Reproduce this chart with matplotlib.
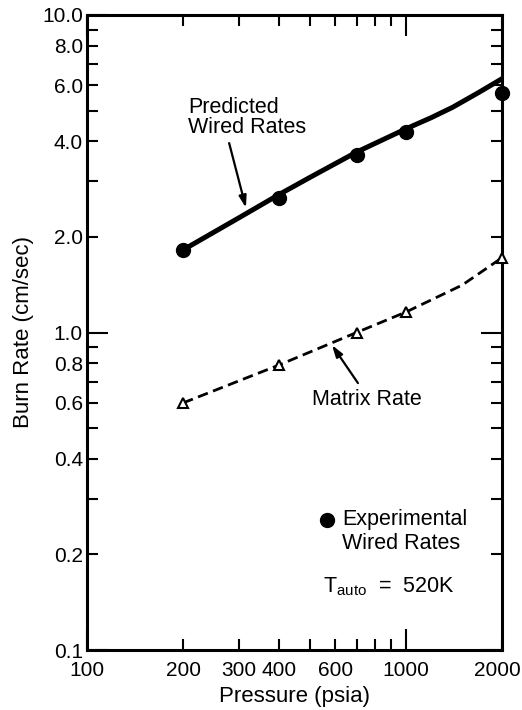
#!/usr/bin/env python3

import matplotlib
matplotlib.use("Agg")
import matplotlib.pyplot as plt
import matplotlib.transforms as mtransforms
from matplotlib.ticker import FixedLocator, FixedFormatter

# Valores
pressao_exp = [200, 400, 700, 1000, 2000]
taxa_exp = [1.82, 2.65, 3.62, 4.28, 5.68]

pressao_prev = [200, 300, 400, 500, 700, 1000, 1200, 1400, 1700, 2000]
taxa_prev = [1.82, 2.30, 2.72, 3.08, 3.70, 4.38, 4.75, 5.12, 5.72, 6.30]

# curva tracejada (lida em mais pontos) e triângulos
pressao_matriz = [200, 400, 700, 1000, 1500, 2000]
taxa_matriz = [0.60, 0.79, 1.00, 1.16, 1.41, 1.72]
pressao_matriz_pts = [200, 400, 700, 1000, 2000]
taxa_matriz_pts = [0.60, 0.79, 1.00, 1.16, 1.72]

x_major = [100, 1000]
x_major_labels = ["100", "1000"]
x_minor = [200, 300, 400, 500, 600, 700, 800, 900, 2000]
x_minor_labels = ["200", "300", "400", "", "600", "", "", "", "2000"]
y_major = [0.1, 1.0, 10.0]
y_major_labels = ["0.1", "1.0", "10.0"]
y_minor = [0.2, 0.3, 0.4, 0.5, 0.6, 0.7, 0.8, 0.9, 2, 3, 4, 5, 6, 7, 8, 9]
y_minor_labels = ["0.2", "", "0.4", "", "0.6", "", "0.8", "",
                  "2.0", "", "4.0", "", "6.0", "", "8.0", ""]

plt.rcParams["font.family"] = ["Liberation Sans", "DejaVu Sans"]
plt.rcParams["mathtext.fontset"] = "custom"
plt.rcParams["mathtext.rm"] = "Liberation Sans"
plt.rcParams["mathtext.it"] = "Liberation Sans"

fig = plt.figure(figsize=(5.22, 7.10), dpi=100)
ax = fig.add_axes([87 / 522, 1 - 650 / 710, 415 / 522, 635 / 710])

ax.set_xscale("log")
ax.set_yscale("log")
ax.set_xlim(100, 2000)
ax.set_ylim(0.1, 10)

# Curvas
ax.plot(pressao_prev, taxa_prev, color="black", linewidth=3.6,
        solid_capstyle="round", solid_joinstyle="round", zorder=3)
ax.plot(pressao_exp, taxa_exp, "o", color="black", markersize=10,
        clip_on=False, zorder=4)
ax.plot(pressao_matriz, taxa_matriz, color="black", linewidth=2.0,
        linestyle=(0, (3.8, 2.0)), zorder=3)
ax.plot(pressao_matriz_pts, taxa_matriz_pts, "^", color="black",
        markersize=7.5, markerfacecolor="white", markeredgewidth=1.5,
        clip_on=False, zorder=4)

# Eixos e ticks
ax.xaxis.set_major_locator(FixedLocator(x_major))
ax.xaxis.set_major_formatter(FixedFormatter(x_major_labels))
ax.xaxis.set_minor_locator(FixedLocator(x_minor))
ax.xaxis.set_minor_formatter(FixedFormatter(x_minor_labels))
ax.yaxis.set_major_locator(FixedLocator(y_major))
ax.yaxis.set_major_formatter(FixedFormatter(y_major_labels))
ax.yaxis.set_minor_locator(FixedLocator(y_minor))
ax.yaxis.set_minor_formatter(FixedFormatter(y_minor_labels))

ax.tick_params(which="both", direction="in", top=True, right=True,
               labelsize=15, width=1.5)
ax.tick_params(axis="x", which="both", pad=8)
ax.tick_params(axis="y", which="both", pad=3)
ax.tick_params(which="major", length=15)
ax.tick_params(which="minor", length=8)
for s in ax.spines.values():
    s.set_linewidth(2.2)

# "2000" fica encostado à borda: puxar um pouco para a esquerda
desloc = mtransforms.ScaledTranslation(-3 / 72, 0, fig.dpi_scale_trans)
for lab in ax.xaxis.get_minorticklabels():
    if lab.get_text() == "2000":
        lab.set_transform(lab.get_transform() + desloc)

ax.set_xlabel("Pressure (psia)", fontsize=16, labelpad=4)
ax.set_ylabel("Burn Rate (cm/sec)", fontsize=16, labelpad=6)

# Anotações
seta = dict(arrowstyle="-|>,head_length=0.7,head_width=0.22",
            color="black", lw=1.6, shrinkA=0, shrinkB=0)
ax.text(208, 5.13, "Predicted", fontsize=15.5, ha="left", va="center")
ax.text(208, 4.41, "Wired Rates", fontsize=15.5, ha="left", va="center")
ax.annotate("", xy=(315, 2.47), xytext=(279, 3.95), arrowprops=seta)

ax.text(755, 0.613, "Matrix Rate", fontsize=15.5, ha="center", va="center")
ax.annotate("", xy=(586, 0.913), xytext=(707, 0.693), arrowprops=seta)

ax.plot([565], [0.257], "o", color="black", markersize=10)
ax.text(630, 0.257, "Experimental", fontsize=15.5, ha="left", va="center")
ax.text(630, 0.217, "Wired Rates", fontsize=15.5, ha="left", va="center")
ax.text(549, 0.158, r"T$_{\mathrm{auto}}$  =  520K", fontsize=15.5,
        ha="left", va="center")

fig.savefig("out.png", dpi=100)
